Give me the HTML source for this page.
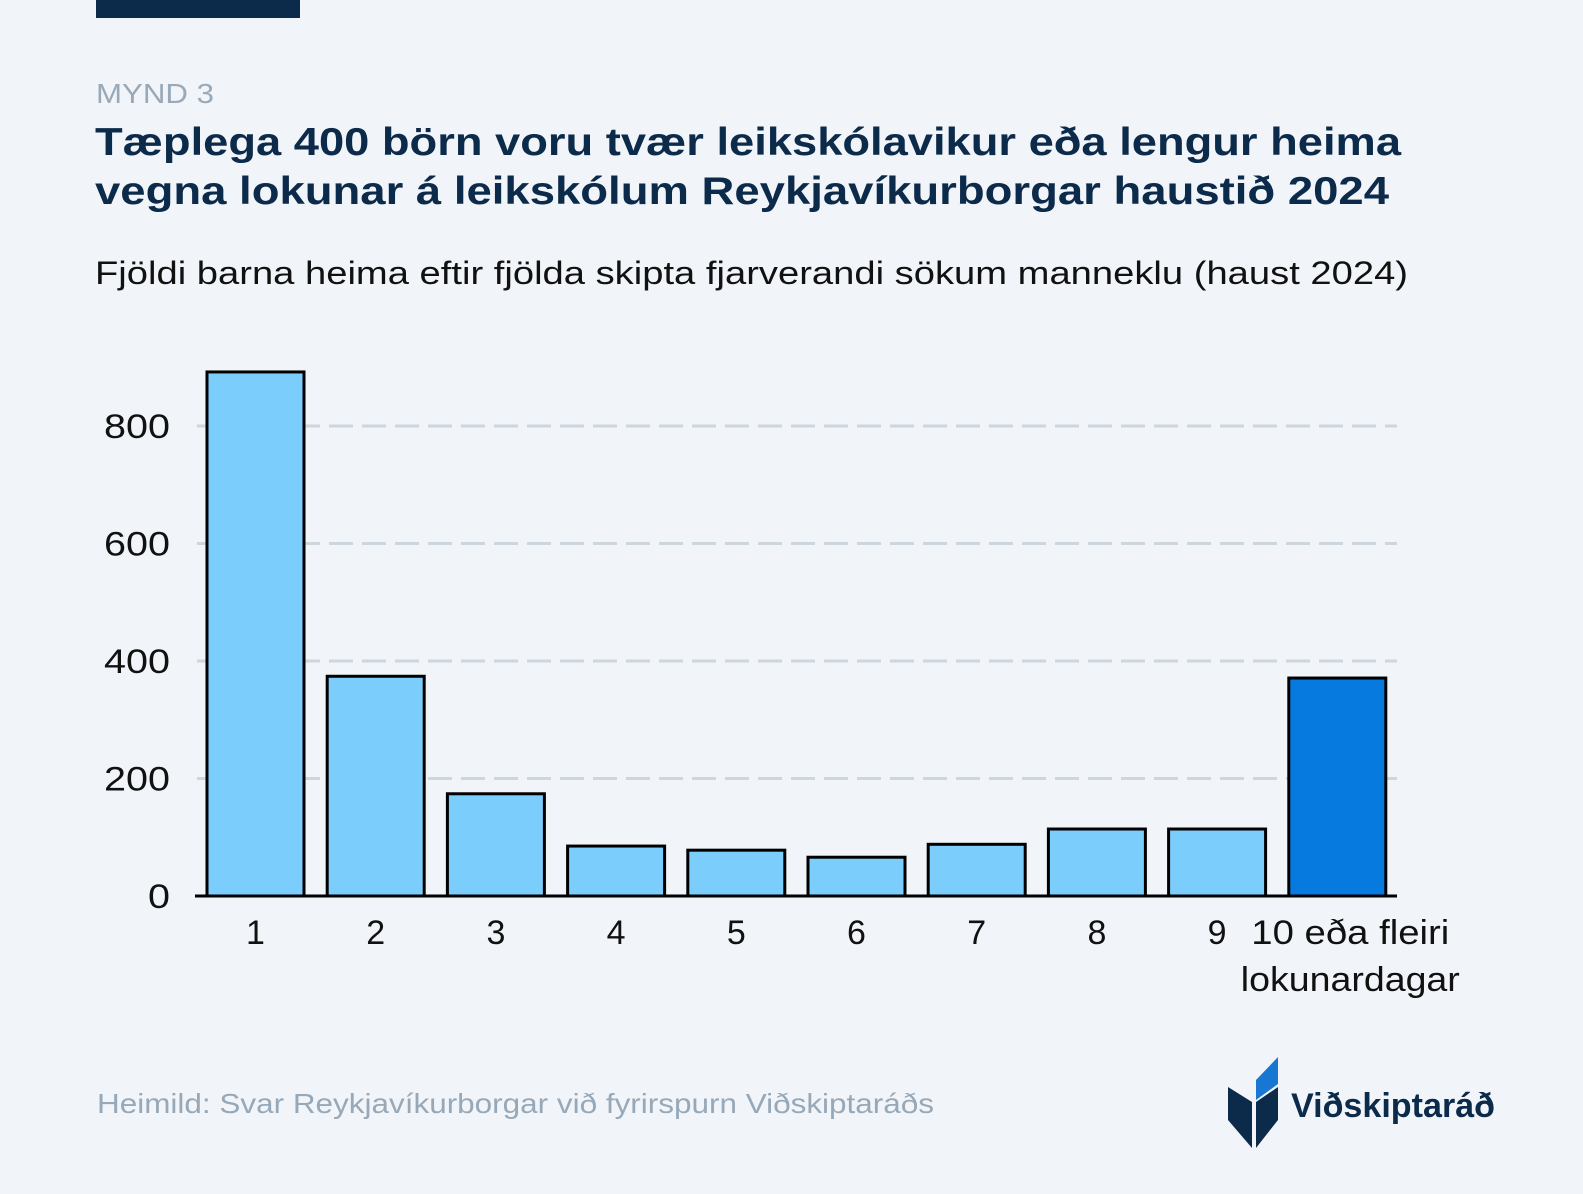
<!DOCTYPE html>
<html><head><meta charset="utf-8"><style>
html,body{margin:0;padding:0;background:#f1f5fa;}
svg{display:block;font-family:"Liberation Sans",sans-serif;}
</style></head><body>
<svg width="1583" height="1194" viewBox="0 0 1583 1194">
<rect x="0" y="0" width="1583" height="1194" fill="#f1f5fa"/>
<rect x="96" y="0" width="204" height="18" fill="#0c2a4a"/>
<text x="96" y="103" font-size="28" fill="#9aa9b8" textLength="118" lengthAdjust="spacingAndGlyphs">MYND 3</text>
<text x="95" y="155" font-size="39" font-weight="bold" fill="#0c2a4a" textLength="1306" lengthAdjust="spacingAndGlyphs">Tæplega 400 börn voru tvær leikskólavikur eða lengur heima</text>
<text x="95" y="204" font-size="39" font-weight="bold" fill="#0c2a4a" textLength="1294" lengthAdjust="spacingAndGlyphs">vegna lokunar á leikskólum Reykjavíkurborgar haustið 2024</text>
<text x="95" y="284" font-size="32" fill="#111" textLength="1313" lengthAdjust="spacingAndGlyphs">Fjöldi barna heima eftir fjölda skipta fjarverandi sökum manneklu (haust 2024)</text>
<g id="grid"></g>
<g id="yticks"></g>
<g id="bars"></g>
<line x1="195" y1="896" x2="1397" y2="896" stroke="#000" stroke-width="3"/>
<g id="xticks"></g>
<text x="97" y="1113" font-size="28" fill="#97a8b8" textLength="837" lengthAdjust="spacingAndGlyphs">Heimild: Svar Reykjavíkurborgar við fyrirspurn Viðskiptaráðs</text>
<g>
<polygon points="1228,1087 1252,1102 1252,1148 1228,1120" fill="#0c2a4a"/>
<polygon points="1256,1102 1278,1087 1278,1120 1256,1148" fill="#0c2a4a"/>
<polygon points="1256,1100 1256,1080 1278,1057 1278,1084" fill="#1777d2"/>
<text x="1291" y="1117" font-size="34" font-weight="bold" fill="#0c2a4a" textLength="204" lengthAdjust="spacingAndGlyphs">Viðskiptaráð</text>
</g>
</svg>
<script>
const categories = ["1","2","3","4","5","6","7","8","9","10 eða fleiri|lokunardagar"];
const values = [892, 374, 174, 85, 78, 66, 88, 114, 114, 371];
const highlight = [false,false,false,false,false,false,false,false,false,true];
const yTicks = [0, 200, 400, 600, 800];

const NS = "http://www.w3.org/2000/svg";
const y0 = 896, pxPerUnit = 0.5875;
const x0 = 207, pitch = 120.2, barW = 97;
function yScale(v){ return y0 - v * pxPerUnit; }
function xScale(i){ return x0 + i * pitch; }

const grid = document.getElementById('grid');
const yt = document.getElementById('yticks');
yTicks.forEach(t => {
  const y = yScale(t);
  if (t > 0) {
    const l = document.createElementNS(NS,'line');
    l.setAttribute('x1',197); l.setAttribute('x2',1397);
    l.setAttribute('y1',y); l.setAttribute('y2',y);
    l.setAttribute('stroke','#cbd6de'); l.setAttribute('stroke-width',3);
    l.setAttribute('stroke-dasharray','24 9');
    
    
    grid.appendChild(l);
  }
  const tx = document.createElementNS(NS,'text');
  tx.setAttribute('x',170); tx.setAttribute('y',y+12);
  tx.setAttribute('text-anchor','end'); tx.setAttribute('font-size','34');
  tx.setAttribute('fill','#111');
  const s = String(t);
  tx.setAttribute('textLength', 22*s.length);
  tx.setAttribute('lengthAdjust','spacingAndGlyphs');
  tx.textContent = s;
  
  
  yt.appendChild(tx);
});

const bars = document.getElementById('bars');
const xt = document.getElementById('xticks');
values.forEach((v,i) => {
  const r = document.createElementNS(NS,'rect');
  const x = xScale(i), y = yScale(v);
  r.setAttribute('x',x); r.setAttribute('y',y);
  r.setAttribute('width',barW); r.setAttribute('height',y0 - y);
  r.setAttribute('fill', highlight[i] ? '#077ae0' : '#7bcdfb');
  r.setAttribute('stroke','#000'); r.setAttribute('stroke-width',3);
  
  
  bars.appendChild(r);
  const lines = categories[i].split('|');
  const multi = lines.length > 1;
  lines.forEach((s,j) => {
    const tx = document.createElementNS(NS,'text');
    tx.setAttribute('x', x + barW/2 + (multi ? 13 : 0)); tx.setAttribute('y', 944 + j*47);
    tx.setAttribute('text-anchor','middle'); tx.setAttribute('font-size','34');
    tx.setAttribute('fill','#111');
    if (multi) {
      tx.setAttribute('textLength', j === 0 ? 198 : 219);
      tx.setAttribute('lengthAdjust','spacingAndGlyphs');
    }
    tx.textContent = s;
    
    
    xt.appendChild(tx);
  });
});
</script>
</body></html>
